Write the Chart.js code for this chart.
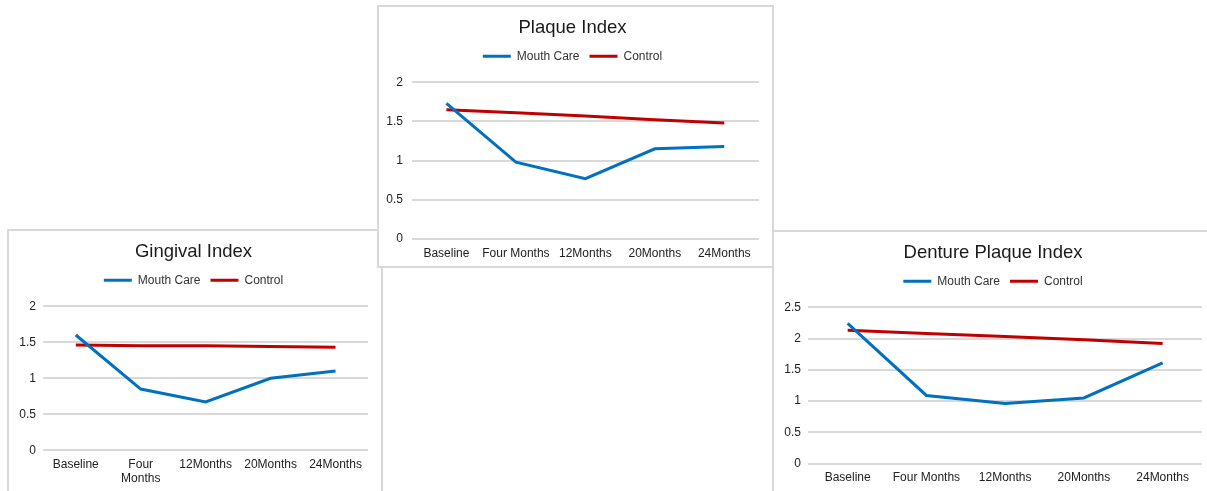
<!DOCTYPE html>
<html>
<head>
<meta charset="utf-8">
<script src="https://cdn.jsdelivr.net/npm/chart.js@4"></script>
<style>
html,body{margin:0;padding:0;background:#fff;width:1207px;height:491px;overflow:hidden;position:relative}
.panel{position:absolute;box-sizing:border-box;border:2px solid #d9d9d9;background:#fff}
.panel canvas{display:block}
#pGing{left:7px;top:229px;width:376px;height:270px;z-index:1}
#pDent{left:772px;top:230px;width:445px;height:270px;z-index:1}
#pPlaq{left:377px;top:5px;width:397px;height:263px;z-index:2}
</style>
</head>
<body>
<div class="panel" id="pGing"><canvas id="cGing" width="372" height="266"></canvas></div>
<div class="panel" id="pDent"><canvas id="cDent" width="441" height="266"></canvas></div>
<div class="panel" id="pPlaq"><canvas id="cPlaq" width="393" height="259"></canvas></div>
<script>
// time points
const periods=['Baseline','Four Months','12Months','20Months','24Months'];
const periodsWrapped=['Baseline',['Four','Months'],'12Months','20Months','24Months'];

// Plaque Index
const plaqueMouth=[1.73,0.98,0.77,1.15,1.18];
const plaqueControl=[1.65,1.61,1.57,1.52,1.48];

// Gingival Index
const gingMouth=[1.60,0.85,0.67,1.00,1.10];
const gingControl=[1.46,1.45,1.45,1.44,1.43];

// Denture Plaque Index
const dentMouth=[2.24,1.09,0.96,1.05,1.61];
const dentControl=[2.13,2.08,2.03,1.98,1.92];

const FONT="'Liberation Sans', Arial, sans-serif";
const BLUE='#0070C0',RED='#C00000',GRID='#d9d9d9';

// pushes the plot area down a little below the legend
const legendGap={id:'legendGap',beforeInit(chart){
  const fit=chart.legend.fit;
  chart.legend.fit=function(){fit.call(this);this.height+=10};
}};

function series(label,data,color){
  return {label,data,borderColor:color,backgroundColor:color,borderWidth:3,
    pointRadius:0,pointHoverRadius:0,pointBorderWidth:3,pointBorderColor:color,tension:0};
}

function makeChart(id,title,labels,mouth,control,yMax,o){
  return new Chart(document.getElementById(id),{type:'line',
    data:{labels,datasets:[series('Mouth Care',mouth,BLUE),series('Control',control,RED)]},
    options:{responsive:false,animation:false,
      layout:{padding:{left:o.padL,right:13,top:0,bottom:o.padB}},
      plugins:{
        title:{display:true,text:title,color:'#1a1a1a',font:{family:FONT,size:18.5,weight:'normal'},padding:{top:10,bottom:1}},
        legend:{position:'top',labels:{usePointStyle:true,pointStyle:'line',pointStyleWidth:28,
          color:'#333',font:{family:FONT,size:12},padding:10}},
        tooltip:{enabled:false}},
      scales:{
        x:{offset:true,grid:{display:false,drawTicks:false},border:{display:false},
          afterFit:s=>{s.height=o.xH},
          ticks:{color:'#222',font:{family:FONT,size:12},padding:7,maxRotation:0,autoSkip:false}},
        y:{min:0,max:yMax,grid:{color:GRID,lineWidth:2,drawTicks:false},border:{display:false},
          afterFit:s=>{s.width=o.yW},
          ticks:{stepSize:0.5,color:'#222',font:{family:FONT,size:12},padding:o.tickPad,callback:v=>String(v)}}}},
    plugins:[legendGap]});
}

makeChart('cPlaq','Plaque Index',periods,plaqueMouth,plaqueControl,2,{padL:7,yW:25.7,tickPad:8.7,padB:5.6,xH:21.4});
makeChart('cGing','Gingival Index',periodsWrapped,gingMouth,gingControl,2,{padL:10,yW:24.3,tickPad:7.3,padB:10.9,xH:35.8});
makeChart('cDent','Denture Plaque Index',periods,dentMouth,dentControl,2.5,{padL:10,yW:24.3,tickPad:7.3,padB:12.9,xH:21.4});
</script>
</body>
</html>
